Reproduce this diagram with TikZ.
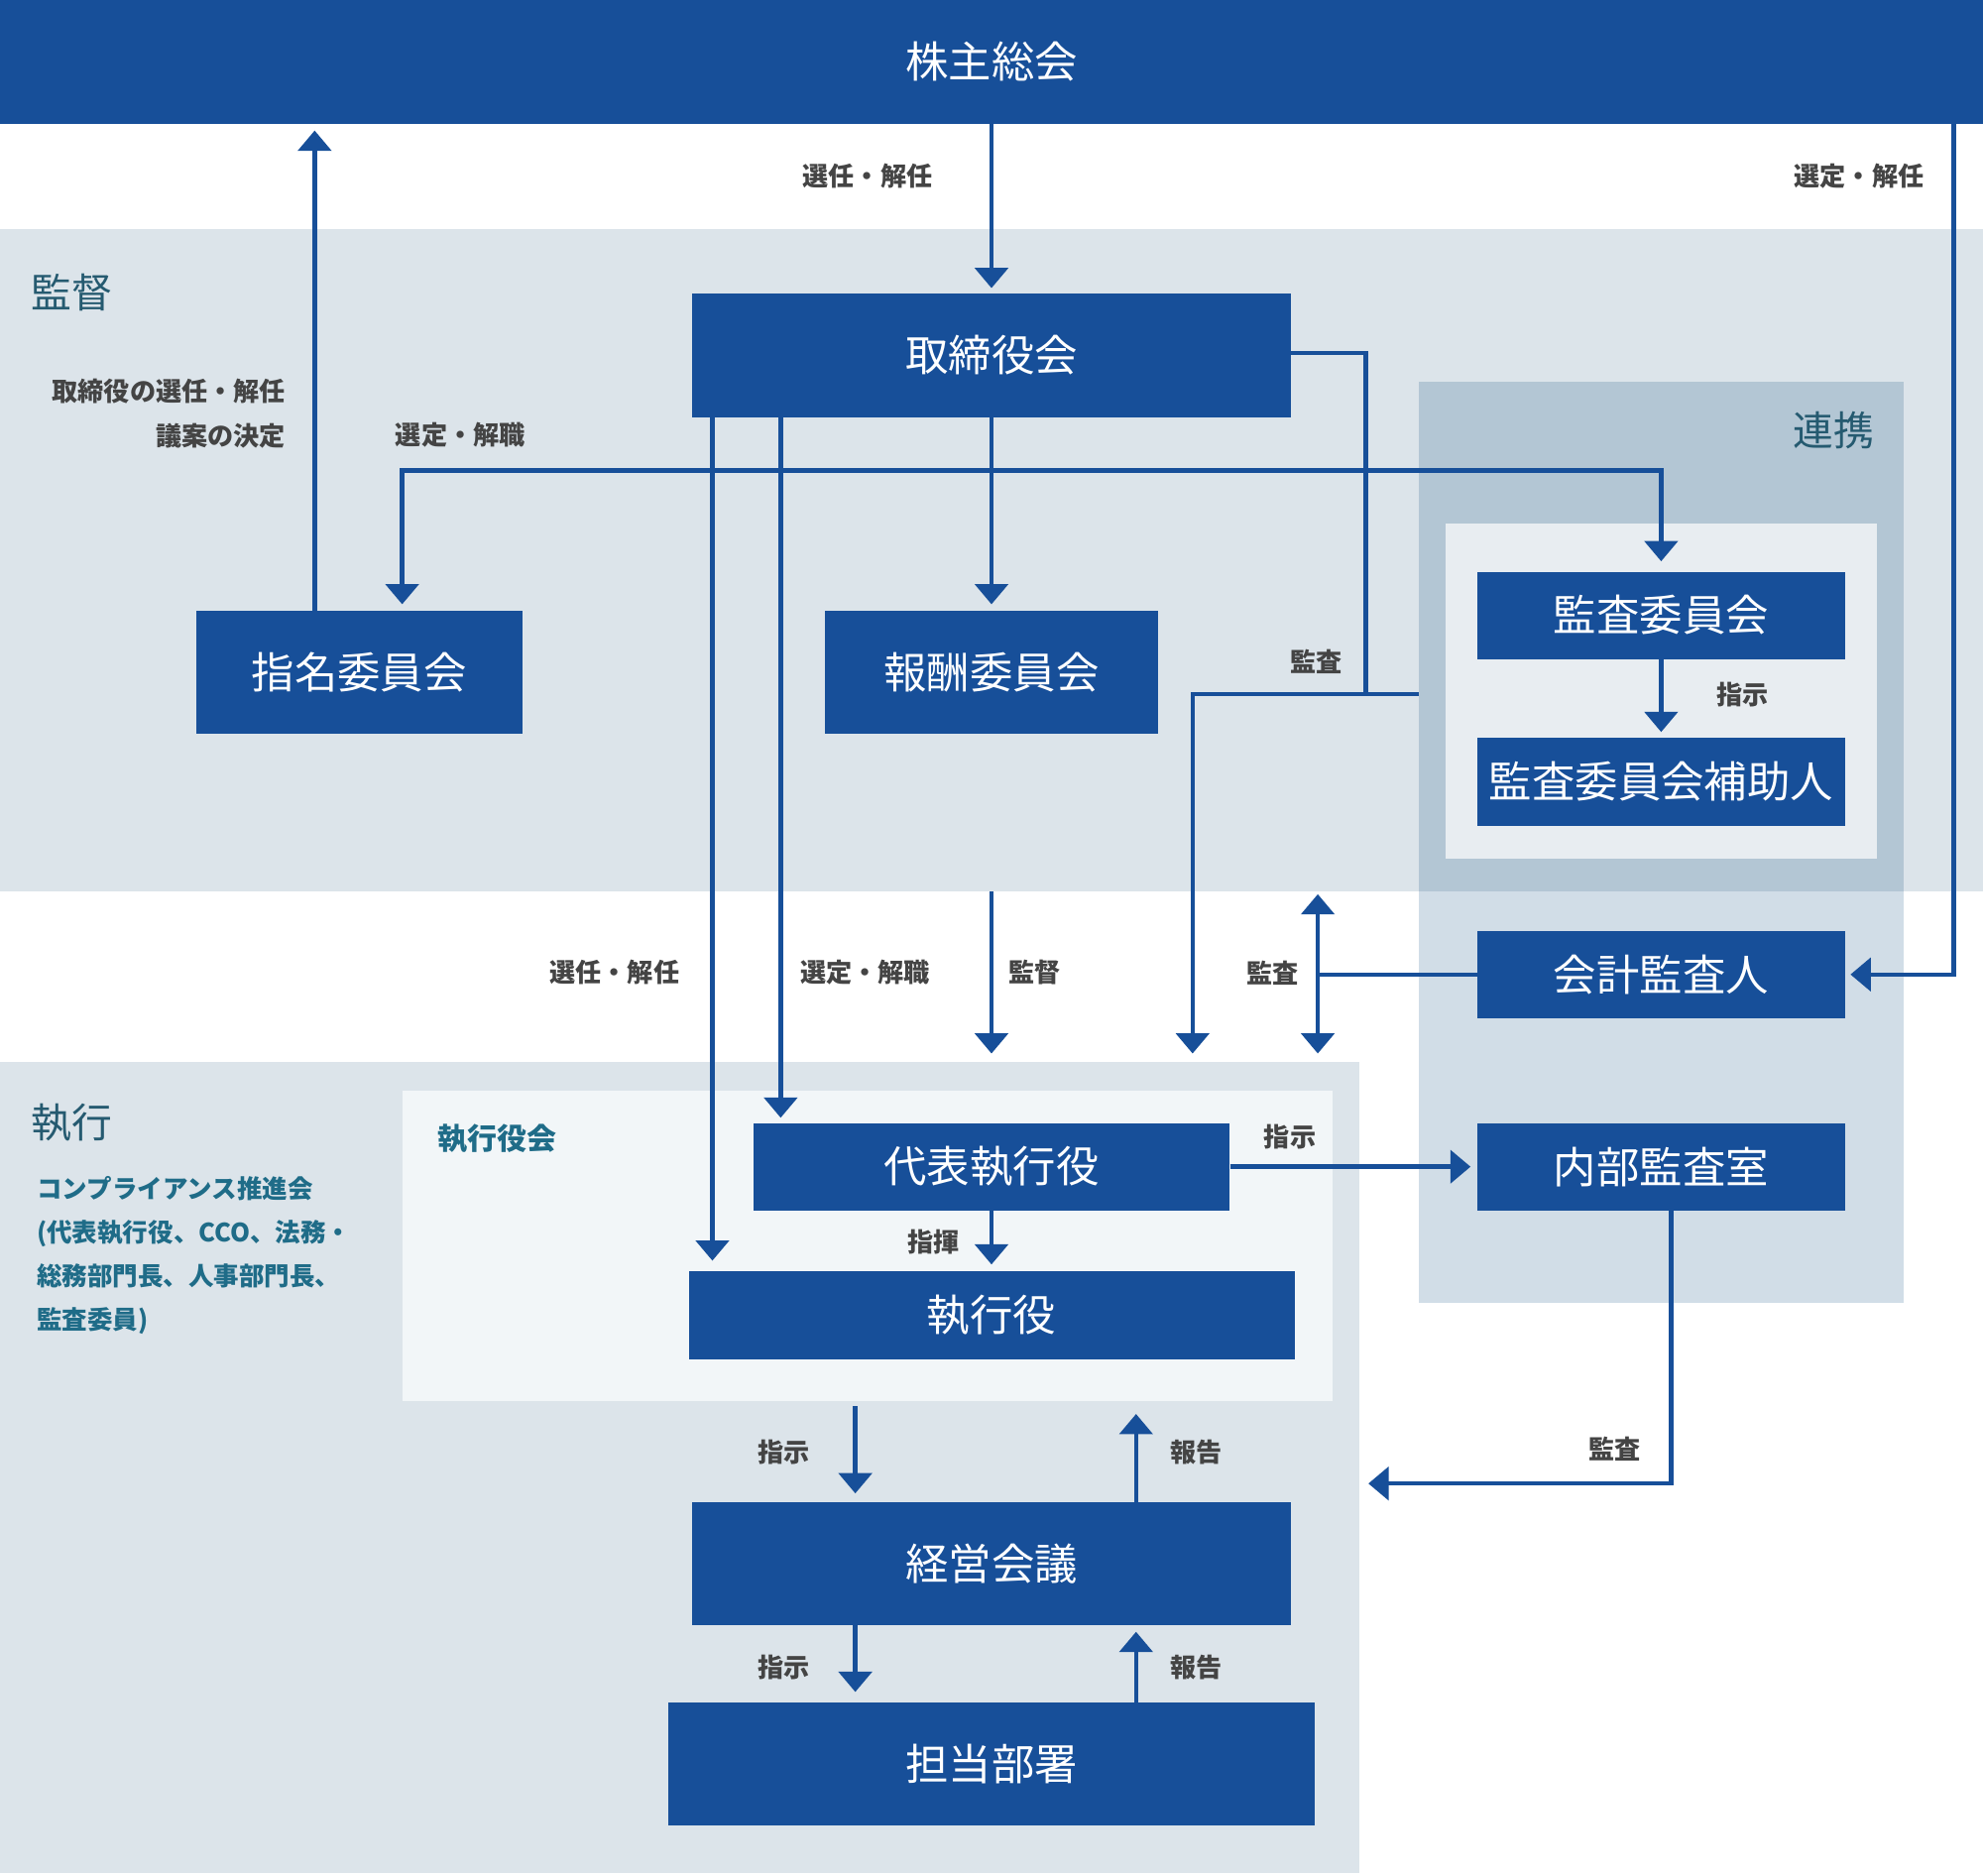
\documentclass[tikz,border=0pt]{standalone}
\usepackage{fontspec}
\setmainfont{Noto Sans CJK JP}
\usetikzlibrary{arrows.meta,positioning}

\definecolor{boxblue}{HTML}{174F99}
\definecolor{bandgray}{HTML}{DCE4EA}
\definecolor{linkdark}{HTML}{B3C6D4}
\definecolor{linklight}{HTML}{D1DDE7}
\definecolor{innergray}{HTML}{E8EDF1}
\definecolor{boardgray}{HTML}{F2F6F8}
\definecolor{labelgray}{HTML}{444444}
\definecolor{headteal}{HTML}{255A70}
\definecolor{noteteal}{HTML}{1F6C88}

\tikzset{
  bluebox/.style={fill=boxblue, text=white, inner sep=0pt, font=\fontsize{34}{40}\selectfont},
  area/.style={inner sep=0pt, outer sep=0pt},
  lbl/.style={text=labelgray, inner sep=0pt, font=\bfseries\fontsize{20.5}{24}\selectfont},
  head/.style={text=headteal, inner sep=0pt, font=\fontsize{32}{38}\selectfont},
  arr/.style={draw=boxblue, line width=3.5pt, -{Triangle[width=26pt,length=16pt]}},
  ln/.style={draw=boxblue, line width=3.5pt},
}

\begin{document}
\begin{tikzpicture}[x=1pt,y=-1pt]
\useasboundingbox (0,0) rectangle (1568,1483);

% background areas
\node[area, fill=bandgray, minimum width=1568pt, minimum height=524pt] (supband) at (784,443) {};
\node[area, fill=bandgray, minimum width=1075pt, minimum height=641pt] (exeband) at (537.5,1160.5) {};
\node[area, fill=linkdark, minimum width=383pt, minimum height=403pt] (renkei) at (1313.5,503.5) {};
\node[area, fill=linklight, minimum width=383pt, minimum height=325pt] (renkeilow) at (1313.5,867.5) {};
\node[area, fill=innergray, minimum width=341pt, minimum height=265pt] (auditarea) at (1313.5,546.5) {};
\node[area, fill=boardgray, minimum width=736pt, minimum height=246pt] (yakuinkai) at (686,985) {};

% boxes
\node[bluebox, minimum width=1568pt, minimum height=98pt] (sokai) at (784,49) {株主総会};
\node[bluebox, minimum width=473pt, minimum height=98pt] (torishimari) at (784,281) {取締役会};
\node[bluebox, minimum width=258pt, minimum height=97pt] (shimei) at (284,531.5) {指名委員会};
\node[bluebox, minimum width=263pt, minimum height=97pt] (hoshu) at (784,531.5) {報酬委員会};
\node[bluebox, minimum width=291pt, minimum height=69pt] (kansaiin) at (1313.5,486.5) {監査委員会};
\node[bluebox, minimum width=291pt, minimum height=70pt] (hojo) at (1313.5,618) {監査委員会補助人};
\node[bluebox, minimum width=291pt, minimum height=69pt] (kaikei) at (1313.5,770.5) {会計監査人};
\node[bluebox, minimum width=291pt, minimum height=69pt] (naibu) at (1313.5,922.5) {内部監査室};
\node[bluebox, minimum width=377pt, minimum height=69pt] (daihyo) at (784,922.5) {代表執行役};
\node[bluebox, minimum width=479pt, minimum height=70pt] (shikko) at (784,1040) {執行役};
\node[bluebox, minimum width=473pt, minimum height=97pt] (keiei) at (784,1236.5) {経営会議};
\node[bluebox, minimum width=511pt, minimum height=97pt] (tanto) at (784,1394.5) {担当部署};

% headings
\node[head] (hkantoku) at (57,231) {監督};
\node[head] (hshikko) at (57,888) {執行};
\node[head] (hrenkei) at (1450,340) {連携};
\node[text=noteteal, inner sep=0pt, font=\bfseries\fontsize{23.5}{28}\selectfont] (hyakuin) at (393,900) {執行役会};
\node[text=noteteal, inner sep=0pt, anchor=west, align=left, font=\bfseries\fontsize{20}{34.5}\selectfont] (compl) at (29,992.5)
  {コンプライアンス推進会\\(代表執行役、CCO、法務・\\総務部門長、人事部門長、\\監査委員)};

% coordinates
\coordinate (sj) at (617,372);
\coordinate (kj) at (1080,549);
\coordinate (kend) at (943,840);
\coordinate (kk) at (1042,770.5);
\coordinate (rl) at (1545,0);
\coordinate (naud) at (1075,1173);

% connectors
\draw[arr, shorten >=4pt] (sokai) -- (torishimari);
\draw[arr, shorten >=5pt] ([xshift=94pt]shimei.north west) -- ([xshift=94pt]shimei.north west |- sokai.south);
\draw[arr, shorten >=5pt] (sj) -| ([xshift=34pt]shimei.north);
\draw[arr, shorten >=8pt] (sj) -| (kansaiin.north);
\draw[arr, shorten >=5pt] (torishimari) -- (hoshu);
\draw[arr, shorten >=8pt] ([xshift=16pt]torishimari.south west) -- ([xshift=16pt]torishimari.south west |- shikko.north);
\draw[arr, shorten >=4pt] ([xshift=70pt]torishimari.south west) -- ([xshift=70pt]torishimari.south west |- daihyo.north);
\draw[ln] ([yshift=2pt]torishimari.east) -| (kj);
\draw[arr, shorten >=7pt] (renkei.west |- kj) -| (kend);
\draw[arr, shorten >=7pt] (hoshu |- supband.south) -- (hoshu |- exeband.north);
\draw[ln] (kaikei.west) -- (kk);
\draw[arr, {Triangle[width=26pt,length=16pt]}-{Triangle[width=26pt,length=16pt]}, shorten <=2pt, shorten >=7pt] (kk |- supband.south) -- (kk |- exeband.north);
\draw[arr, shorten >=4pt] (sokai.south -| rl) |- (kaikei.east);
\draw[arr, shorten >=4pt] (kansaiin) -- (hojo);
\draw[arr, shorten >=5pt] (daihyo) -- (naibu);
\draw[arr, shorten >=5pt] (daihyo) -- (shikko);
\draw[arr, shorten >=7pt] ([xshift=8pt]naibu.south) |- (naud);
\draw[arr, shorten <=4pt, shorten >=7pt] ([xshift=129pt]keiei.north west |- yakuinkai.south) -- ([xshift=129pt]keiei.north west);
\draw[arr, shorten >=10pt] ([xshift=351pt]keiei.north west) -- ([xshift=351pt]keiei.north west |- yakuinkai.south);
\draw[arr, shorten >=8pt] ([xshift=129pt]keiei.south west) -- ([xshift=129pt]keiei.south west |- tanto.north);
\draw[arr, shorten >=5pt] ([xshift=351pt]keiei.south west |- tanto.north) -- ([xshift=351pt]keiei.south west);

% labels
\node[lbl] (l1) at (686,139) {選任・解任};
\node[lbl] (l2) at (1470,139) {選定・解任};
\node[lbl, anchor=east] (l3) at (226,309) {取締役の選任・解任};
\node[lbl, anchor=east] (l4) at (226,345) {議案の決定};
\node[lbl] (l5) at (364,344) {選定・解職};
\node[lbl] (l6) at (1041,523) {監査};
\node[lbl] (l7) at (1378,549) {指示};
\node[lbl] (l8) at (486,769) {選任・解任};
\node[lbl] (l9) at (684,769) {選定・解職};
\node[lbl] (l10) at (818,769) {監督};
\node[lbl] (l11) at (1006,769) {監査};
\node[lbl] (l12) at (1020,899) {指示};
\node[lbl] (l13) at (738,982) {指揮};
\node[lbl] (l14) at (1277,1146) {監査};
\node[lbl] (l15) at (620,1148) {指示};
\node[lbl] (l16) at (946,1148) {報告};
\node[lbl] (l17) at (620,1318) {指示};
\node[lbl] (l18) at (946,1318) {報告};
\end{tikzpicture}
\end{document}
